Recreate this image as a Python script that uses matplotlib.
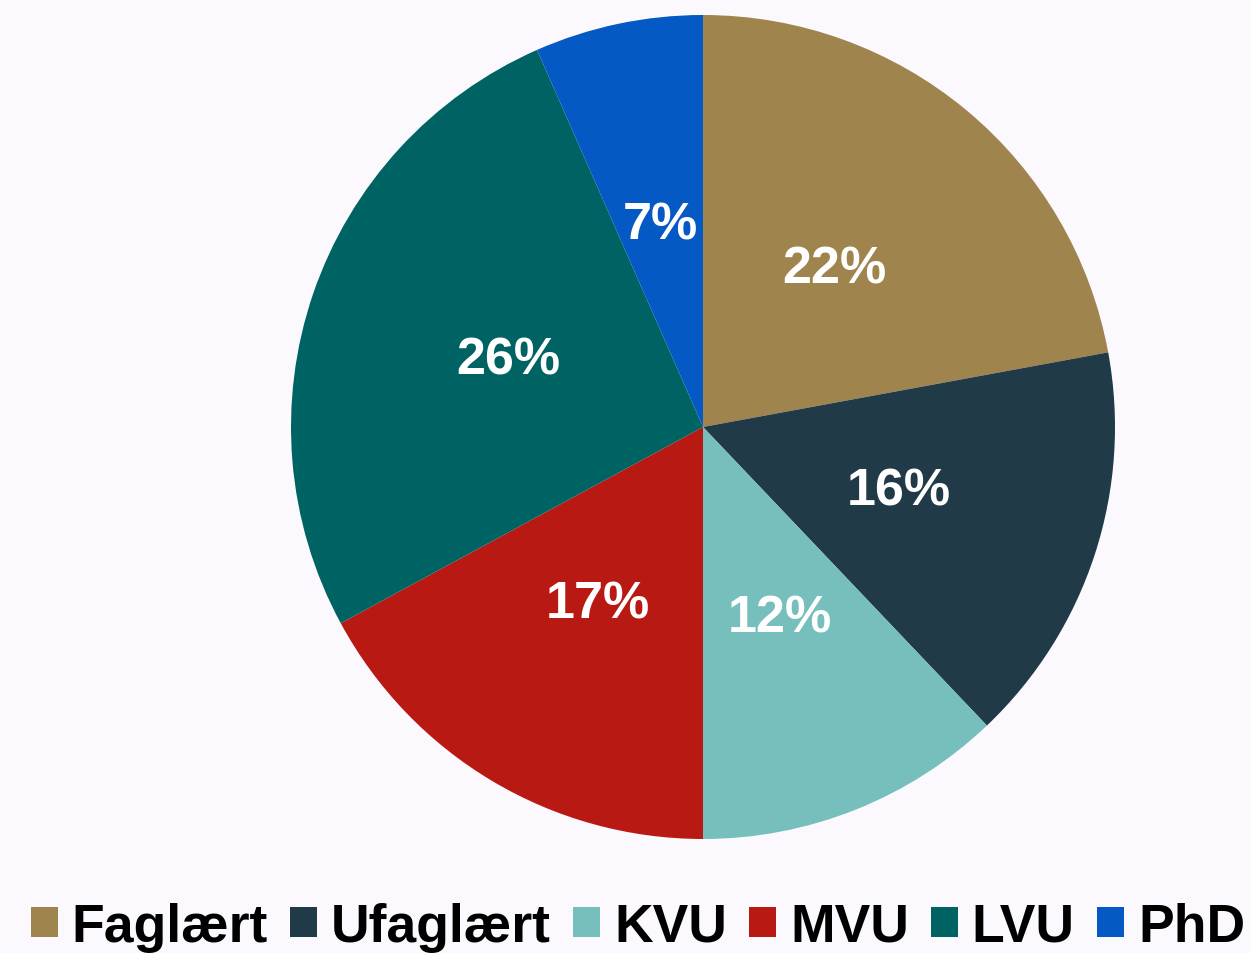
import matplotlib.pyplot as plt

plt.rcParams['font.family'] = ['Liberation Sans', 'DejaVu Sans']

# data
labels = ["Faglært", "Ufaglært", "KVU", "MVU", "LVU", "PhD"]
values = [22.1, 15.8, 12.1, 17.1, 26.3, 6.6]
colors = ["#A0844E", "#203A47", "#77BFBD", "#B91913", "#006363", "#0459C4"]
bg = "#FBF9FE"

W, H = 1251, 954
fig = plt.figure(figsize=(W / 100, H / 100), dpi=100, facecolor=bg)

# pie centre (703, 428) px from top, radius ~412 px
cx, cy, r = 703, H - 428, 412
ax = fig.add_axes([(cx - r) / W, (cy - r) / H, 2 * r / W, 2 * r / H])
ax.set_facecolor(bg)

wedges, texts, autotexts = ax.pie(
    values, colors=colors, startangle=90, counterclock=False,
    autopct='%.0f%%', pctdistance=0.5,
    wedgeprops=dict(linewidth=0),
    textprops=dict(color='white', fontsize=37.5, fontweight='bold'))
ax.set_xlim(-1, 1)
ax.set_ylim(-1, 1)
ax.set_aspect('equal')
ax.axis('off')

# legend sits at the very bottom edge, as in the original (descenders touch the edge)
fig.legend(wedges, labels, loc='lower center', bbox_to_anchor=(0.51, -0.038),
           ncol=6, frameon=False,
           prop=dict(size=38.5, weight='bold'),
           handlelength=0.5, handleheight=0.5,
           handletextpad=0.26, columnspacing=0.42, borderpad=0.2)

fig.savefig('out.png', dpi=100, facecolor=bg)
